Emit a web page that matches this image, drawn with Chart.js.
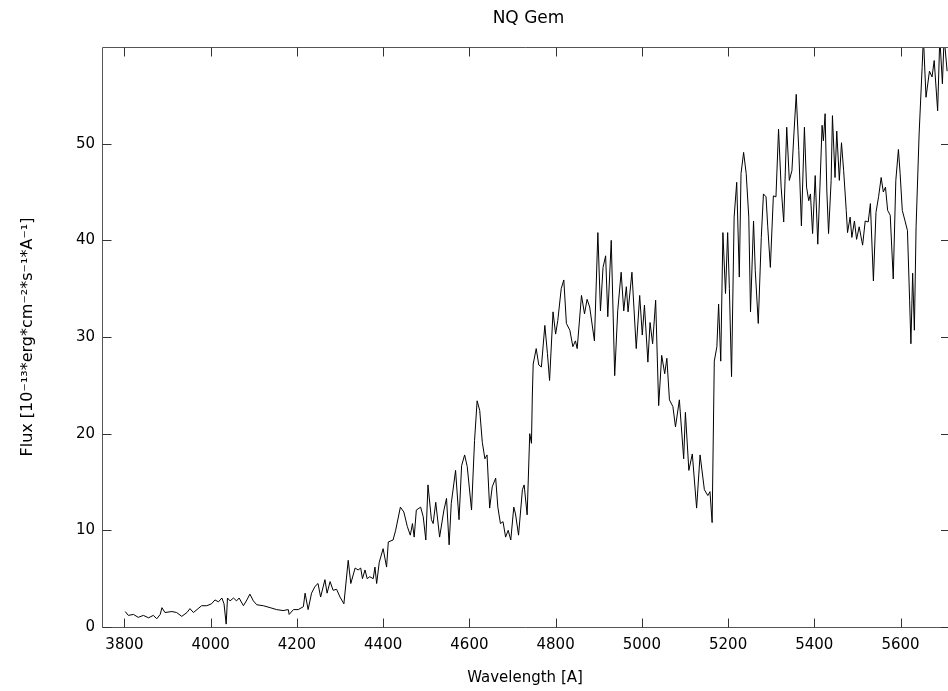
<!DOCTYPE html>
<html>
<head>
<meta charset="utf-8">
<script src="https://cdn.jsdelivr.net/npm/chart.js@4"></script>
<style>
  html, body { margin: 0; padding: 0; background: #fff; }
  #wrap { width: 948px; height: 691px; position: relative; }
</style>
</head>
<body>
<div id="wrap"><canvas id="c"></canvas></div>
<script>
const chartTitle = 'NQ Gem';
const xAxisTitle = 'Wavelength [A]';
const yAxisTitle = 'Flux [10\u207B\u00B9\u00B3*erg*cm\u207B\u00B2*s\u207B\u00B9*A\u207B\u00B9]';

const xTickValues = [3800, 4000, 4200, 4400, 4600, 4800, 5000, 5200, 5400, 5600];
const yTickValues = [0, 10, 20, 30, 40, 50];

const wavelength = [
  3802,3809,3821,3832,3844,3856,3867,3875,3883,3887,
  3894,3910,3921,3933,3945,3952,3960,3971,3979,3991,
  4002,4010,4018,4026,4031,4036,4039,4045,4053,4060,
  4066,4076,4084,4091,4099,4107,4122,4138,4153,4168,
  4180,4182,4192,4203,4215,4219,4226,4234,4242,4249,
  4255,4265,4270,4277,4284,4292,4300,4309,4319,4325,
  4335,4342,4348,4352,4358,4363,4369,4377,4381,4385,
  4391,4400,4408,4412,4423,4429,4440,4448,4456,4463,
  4468,4472,4477,4487,4493,4499,4504,4512,4516,4522,
  4531,4541,4547,4553,4558,4568,4576,4582,4589,4595,
  4605,4612,4618,4624,4630,4636,4641,4647,4653,4661,
  4666,4672,4678,4684,4690,4696,4703,4707,4714,4723,
  4727,4734,4740,4744,4746,4748,4755,4761,4767,4775,
  4781,4786,4794,4800,4805,4813,4819,4825,4833,4840,
  4846,4850,4860,4867,4873,4879,4890,4898,4904,4910,
  4916,4921,4929,4937,4944,4952,4958,4964,4968,4977,
  4987,4995,5001,5006,5014,5019,5025,5032,5039,5046,
  5053,5058,5064,5072,5078,5087,5097,5101,5109,5117,
  5127,5135,5145,5153,5158,5163,5168,5174,5178,5183,
  5188,5194,5199,5203,5208,5214,5220,5226,5230,5236,
  5242,5248,5252,5259,5263,5270,5277,5282,5288,5292,
  5298,5305,5311,5317,5323,5329,5336,5342,5348,5353,
  5358,5364,5370,5377,5382,5387,5391,5396,5402,5408,
  5413,5418,5421,5425,5429,5433,5439,5442,5448,5452,
  5458,5463,5468,5474,5477,5483,5487,5493,5498,5504,
  5512,5518,5525,5530,5537,5543,5549,5555,5560,5565,
  5570,5576,5583,5589,5595,5599,5604,5611,5616,5621,
  5624,5628,5632,5636,5643,5650,5653,5659,5667,5673,
  5678,5686,5691,5697,5701,5708
];

const flux = [
  1.6,1.2,1.3,1.0,1.2,0.95,1.2,0.85,1.3,2.0,
  1.5,1.6,1.5,1.1,1.5,1.9,1.5,1.9,2.2,2.2,
  2.4,2.8,2.6,3.0,2.4,0.3,3.0,2.7,3.0,2.7,
  3.0,2.2,2.8,3.4,2.7,2.3,2.2,2.0,1.8,1.7,
  1.8,1.3,1.8,1.8,2.1,3.5,1.8,3.5,4.2,4.5,
  3.1,4.9,3.5,4.7,3.8,3.9,3.1,2.4,6.9,4.5,
  6.1,5.9,6.1,5.0,5.9,5.0,5.2,5.0,6.2,4.5,
  6.7,8.1,6.2,8.8,9.0,10.0,12.4,11.9,10.4,9.5,
  10.7,9.3,12.1,12.4,11.4,9.0,14.7,11.1,10.7,12.9,
  9.3,12.1,13.3,8.5,12.8,16.2,11.1,16.7,17.8,16.6,
  12.1,19.3,23.4,22.4,19.1,17.4,17.8,12.3,14.5,15.4,
  12.4,10.7,10.9,9.3,10.0,9.0,12.4,11.7,9.5,14.2,
  14.7,11.6,20.0,19.0,24.0,27.2,28.8,27.1,26.9,31.2,
  28.3,25.5,32.6,30.3,31.7,35.0,35.9,31.4,30.7,29.0,
  29.6,28.8,34.3,32.4,33.9,33.1,29.6,40.8,32.7,37.2,
  38.4,32.1,40.0,26.0,32.7,36.7,32.7,35.2,32.6,36.7,
  28.8,34.3,30.2,33.3,27.4,31.5,29.3,33.8,22.9,28.1,
  26.2,27.8,23.5,22.8,20.7,23.5,17.4,22.2,16.2,17.9,
  12.3,17.8,14.2,13.6,14.0,10.8,27.5,29.0,33.4,27.5,
  40.8,34.5,40.8,35.0,25.9,42.4,46.0,36.2,46.9,49.1,
  46.9,42.4,32.6,42.0,36.9,31.4,40.3,44.8,44.5,41.4,
  37.2,44.6,44.5,51.5,45.5,41.9,51.7,46.2,47.2,51.3,
  55.1,49.3,41.5,51.7,45.5,44.1,44.8,40.7,46.7,39.6,
  45.5,51.9,50.3,53.1,45.1,40.7,46.2,52.9,46.5,51.3,
  46.2,50.1,47.2,43.1,40.8,42.4,40.3,42.0,40.1,41.4,
  39.5,42.0,41.9,43.8,35.8,42.9,44.5,46.5,45.0,45.5,
  43.1,42.6,36.0,46.2,49.4,46.9,43.1,41.9,41.0,33.8,
  29.3,36.6,30.7,41.4,51.0,57.9,61.0,54.8,57.5,56.9,
  58.6,53.4,61.0,56.2,61.0,57.5
];

const points = wavelength.map((w, i) => ({ x: w, y: flux[i] }));

// Frame on top, left and bottom (the right edge is cut off in the original) plus inward ticks.
const frameTicks = {
  id: 'frameTicks',
  afterDatasetsDraw(chart) {
    const { ctx, chartArea: a, scales: { x, y } } = chart;
    const len = 9;
    const L = Math.round(a.left) + 0.5, T = Math.round(a.top) + 0.5, B = Math.round(a.bottom) + 0.5;
    ctx.save();
    ctx.strokeStyle = '#555';
    ctx.lineWidth = 1;
    ctx.beginPath();
    ctx.moveTo(chart.width, T); ctx.lineTo(L, T); ctx.lineTo(L, B); ctx.lineTo(chart.width, B);
    ctx.stroke();
    ctx.strokeStyle = '#333';
    ctx.beginPath();
    x.ticks.forEach(t => {
      const px = Math.round(x.getPixelForValue(t.value)) + 0.5;
      ctx.moveTo(px, B); ctx.lineTo(px, B - len);
      ctx.moveTo(px, T); ctx.lineTo(px, T + len);
    });
    y.ticks.forEach(t => {
      const py = Math.round(y.getPixelForValue(t.value)) + 0.5;
      ctx.moveTo(L, py); ctx.lineTo(L + len, py);
      ctx.moveTo(chart.width, py); ctx.lineTo(chart.width - len + 2, py);
    });
    ctx.stroke();
    ctx.restore();
  }
};

// Nudge the title box so the title is centred where the original puts it.
const titleShift = {
  id: 'titleShift',
  afterLayout(chart) {
    if (chart.titleBlock) { chart.titleBlock.left += 7; }
  }
};

new Chart(document.getElementById('c'), {
  type: 'scatter',
  data: {
    datasets: [{
      data: points,
      showLine: true,
      borderColor: '#000',
      borderWidth: 1,
      pointRadius: 0,
      tension: 0
    }]
  },
  options: {
    responsive: true,
    maintainAspectRatio: false,
    animation: false,
    devicePixelRatio: 1,
    plugins: {
      legend: { display: false },
      tooltip: { enabled: false },
      title: {
        display: true,
        text: chartTitle,
        fullSize: false,
        color: '#000',
        font: { family: 'DejaVu Sans', size: 17, weight: 'normal', lineHeight: 1.2 },
        padding: { top: 8, bottom: 18.6 }
      }
    },
    scales: {
      x: {
        type: 'linear',
        min: 3748,
        max: 5710,
        afterBuildTicks: s => { s.ticks = xTickValues.map(v => ({ value: v })); },
        afterFit: s => { s.height = 64; },
        grid: { display: false, drawTicks: false },
        border: { display: false },
        ticks: {
          color: '#000',
          padding: 9,
          maxRotation: 0,
          font: { family: 'DejaVu Sans', size: 15 },
          callback: v => String(v)
        },
        title: {
          display: true,
          text: xAxisTitle,
          color: '#000',
          font: { family: 'DejaVu Sans', size: 15 },
          padding: { top: 0, bottom: 4 }
        }
      },
      y: {
        type: 'linear',
        min: 0,
        max: 60,
        afterBuildTicks: s => { s.ticks = yTickValues.map(v => ({ value: v })); },
        afterFit: s => { s.width = 102; },
        grid: { display: false, drawTicks: false },
        border: { display: false },
        ticks: {
          color: '#000',
          padding: 7,
          font: { family: 'DejaVu Sans', size: 15 },
          callback: v => String(v)
        },
        title: {
          display: true,
          text: yAxisTitle,
          color: '#000',
          font: { family: 'DejaVu Sans', size: 16 },
          padding: { top: 18, bottom: 0 }
        }
      }
    }
  },
  plugins: [frameTicks, titleShift]
});
</script>
</body>
</html>
